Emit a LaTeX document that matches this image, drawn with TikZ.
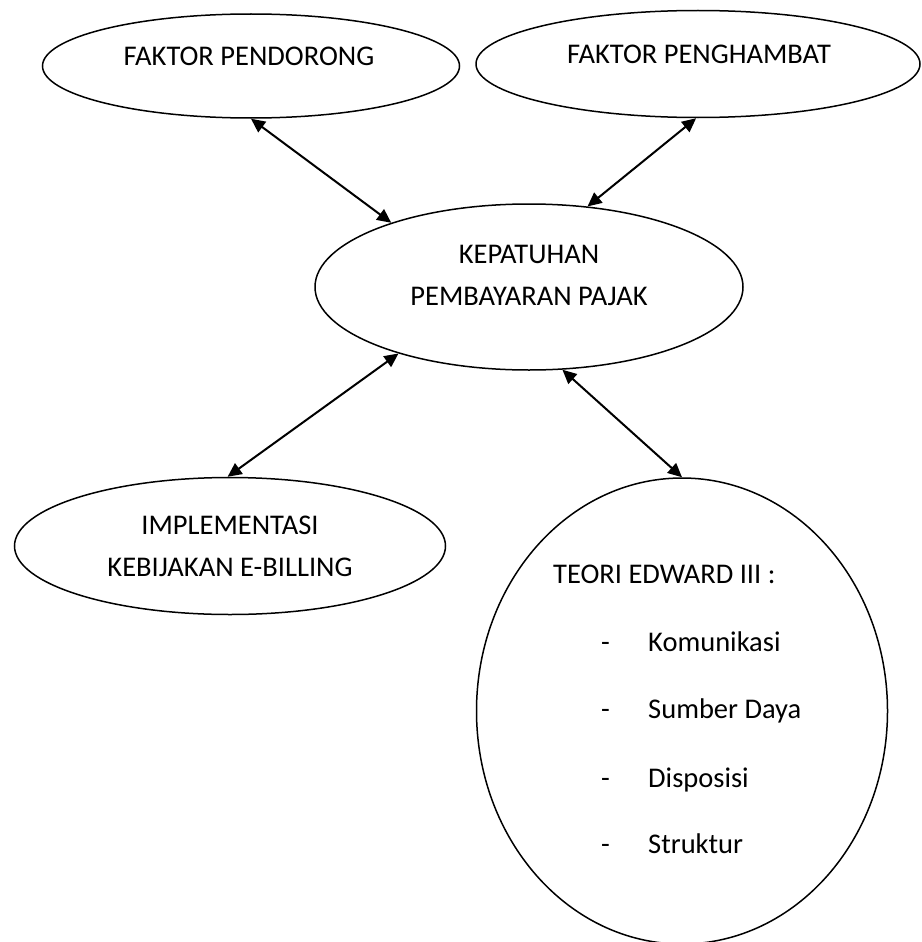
\documentclass[tikz,border=0pt]{standalone}
\usepackage{fontspec}
\setmainfont{Carlito}
\usepackage{tikz}
\usetikzlibrary{shapes,arrows.meta,positioning}

\begin{document}
\begin{tikzpicture}[x=1pt,y=-1pt,
    oval/.style={draw,ellipse,line width=1.5pt,inner sep=0pt},
    link/.style={{Triangle[length=14pt,width=13pt]}-{Triangle[length=14pt,width=13pt]},line width=2pt},
    txt/.style={font=\fontsize{28.5}{42}\selectfont,align=center,inner sep=0pt}]
    \useasboundingbox (0,0) rectangle (921,942);

    % the five ovals
    \node[oval,minimum width=417pt,minimum height=104pt] (pendorong) at (251,66) {};
    \node[oval,minimum width=444pt,minimum height=107pt] (penghambat) at (698,64) {};
    \node[oval,minimum width=428pt,minimum height=166pt] (kepatuhan) at (529,287) {};
    \node[oval,minimum width=431pt,minimum height=137pt] (ebilling) at (230,546) {};
    \node[oval,minimum width=411pt,minimum height=466pt] (edward) at (682,711) {};

    % texts
    \node[txt] (pendorongtxt) at (249,56) {FAKTOR PENDORONG};
    \node[txt] (penghambattxt) at (699,54) {FAKTOR PENGHAMBAT};
    \node[txt] (kepatuhantxt) at (529,275) {KEPATUHAN\\PEMBAYARAN PAJAK};
    \node[txt] (ebillingtxt) at (230,546) {IMPLEMENTASI\\KEBIJAKAN E-BILLING};

    \node[txt,anchor=base west] (edwardtxt) at (553,583) {TEORI EDWARD III :};
    \foreach \item/\yy in {Komunikasi/651,Sumber Daya/718,Disposisi/787,Struktur/853}{
        \node[txt,anchor=base west] at (601,\yy) {-};
        \node[txt,anchor=base west] at (648,\yy) {\item};
    }

    % double arrows
    \draw[link] (pendorong.-90) -- (kepatuhan.155);
    \draw[link] (penghambat.-92) -- (kepatuhan.54);
    \draw[link] (kepatuhan.207) -- (ebilling.92);
    \draw[link] (kepatuhan.-68) -- (edward.90);
\end{tikzpicture}
\end{document}
